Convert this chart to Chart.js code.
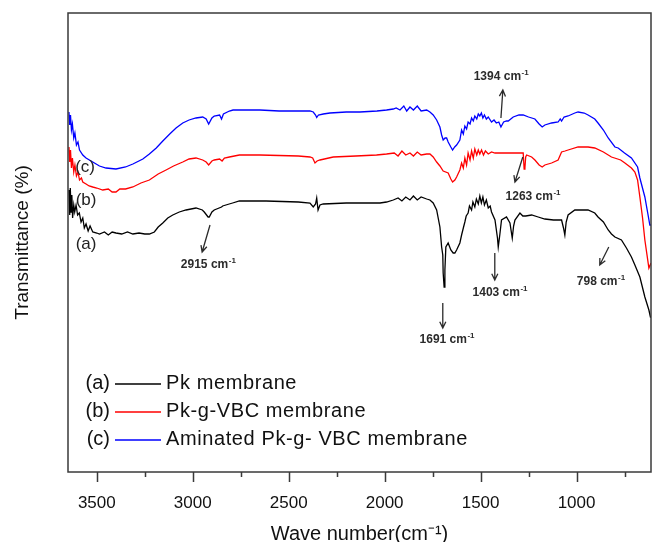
<!DOCTYPE html>
<html>
<head>
<meta charset="utf-8">
<script src="https://cdn.jsdelivr.net/npm/chart.js@4.4.1/dist/chart.umd.min.js"></script>
<style>
    html, body { margin: 0; padding: 0; background: #fff; }
    #wrap { width: 653px; height: 542px; }
</style>
</head>
<body>
<div id="wrap"><canvas id="ftir" width="653" height="542"></canvas></div>
<script>
// FTIR spectra, wavenumber (cm-1) vs transmittance (arbitrary offset units)
const pkWave = [3645, 3641, 3638, 3634, 3630, 3626, 3620, 3615, 3608, 3600, 3591, 3582, 3573, 3565, 3556, 3545, 3535, 3521, 3500, 3486, 3460, 3440, 3420, 3400, 3370, 3340, 3312, 3280, 3250, 3226, 3200, 3180, 3156, 3130, 3104, 3070, 3035, 2983, 2950, 2940, 2920, 2914, 2900, 2888, 2850, 2844, 2810, 2792, 2757, 2618, 2450, 2389, 2372, 2360, 2354, 2347, 2337, 2320, 2200, 2024, 1990, 1955, 1930, 1910, 1890, 1868, 1850, 1830, 1810, 1781, 1764, 1747, 1729, 1712, 1703, 1697, 1695, 1690, 1686, 1681, 1669, 1655, 1643, 1634, 1625, 1608, 1599, 1590, 1582, 1575, 1565, 1558, 1547, 1540, 1530, 1522, 1512, 1504, 1496, 1488, 1480, 1470, 1460, 1450, 1443, 1425, 1412, 1408, 1400, 1391, 1365, 1347, 1335, 1328, 1321, 1295, 1280, 1265, 1234, 1200, 1165, 1120, 1078, 1068, 1061, 1054, 1044, 1009, 940, 905, 888, 860, 835, 818, 800, 766, 740, 714, 696, 670, 644, 623, 615, 612];
const pkTrans = [28.2, 25.7, 28.4, 26.0, 27.7, 25.4, 26.7, 26.0, 26.7, 25.7, 25.9, 25.0, 25.4, 24.4, 24.8, 24.1, 24.6, 24.0, 23.9, 23.8, 24.0, 23.7, 24.0, 23.9, 23.8, 24.0, 23.8, 23.9, 23.8, 23.8, 24.0, 24.5, 24.9, 25.4, 25.7, 26.0, 26.2, 26.4, 26.2, 26.0, 25.5, 25.5, 26.0, 26.2, 26.5, 26.6, 26.8, 26.9, 27.1, 27.1, 27.0, 26.9, 26.5, 26.8, 27.4, 26.2, 26.7, 26.8, 26.9, 26.9, 27.0, 27.2, 27.4, 27.1, 27.5, 27.2, 27.6, 27.2, 27.5, 27.3, 27.2, 26.9, 26.2, 24.5, 22.5, 21.7, 19.9, 18.5, 20.2, 22.5, 22.9, 22.2, 21.9, 21.9, 22.2, 22.9, 23.7, 24.4, 25.0, 25.6, 25.9, 26.6, 26.2, 27.0, 26.5, 27.3, 26.8, 27.6, 26.9, 27.5, 26.7, 27.2, 26.4, 26.6, 26.0, 25.2, 23.4, 22.5, 23.7, 25.2, 25.5, 24.9, 23.4, 24.6, 25.2, 25.9, 25.6, 25.6, 25.7, 25.5, 25.3, 25.2, 25.2, 24.4, 23.7, 25.0, 25.7, 26.2, 26.2, 25.9, 25.5, 25.0, 24.2, 23.8, 23.5, 23.2, 22.4, 21.5, 20.7, 19.5, 17.5, 16.2, 15.5, 15.5];

const vbcWave = [3645, 3641, 3637, 3632, 3627, 3620, 3614, 3606, 3598, 3590, 3580, 3573, 3556, 3540, 3521, 3500, 3469, 3440, 3420, 3400, 3380, 3350, 3312, 3270, 3226, 3180, 3139, 3100, 3052, 3019, 2983, 2948, 2930, 2917, 2900, 2888, 2860, 2847, 2835, 2809, 2757, 2650, 2450, 2389, 2375, 2363, 2352, 2337, 2268, 2150, 2042, 1990, 1950, 1930, 1910, 1890, 1868, 1850, 1830, 1810, 1781, 1764, 1747, 1729, 1712, 1695, 1669, 1655, 1646, 1634, 1625, 1608, 1599, 1590, 1582, 1573, 1565, 1555, 1547, 1538, 1530, 1520, 1512, 1504, 1495, 1485, 1475, 1460, 1443, 1425, 1400, 1360, 1320, 1286, 1278, 1273, 1269, 1265, 1260, 1234, 1217, 1195, 1179, 1165, 1130, 1096, 1078, 1060, 1044, 992, 940, 905, 860, 818, 770, 748, 714, 696, 682, 670, 656, 644, 623, 612];
const vbcTrans = [32.5, 31.0, 32.2, 30.4, 31.4, 30.0, 30.7, 29.6, 30.0, 29.2, 29.4, 29.0, 28.8, 28.6, 28.5, 28.4, 28.2, 28.3, 28.0, 28.0, 28.3, 28.3, 28.5, 28.9, 29.2, 29.8, 30.2, 30.6, 31.0, 31.3, 31.4, 31.2, 31.0, 30.7, 31.1, 31.2, 31.3, 31.1, 31.4, 31.5, 31.7, 31.7, 31.6, 31.5, 31.4, 30.9, 31.1, 31.2, 31.5, 31.6, 31.7, 31.8, 31.9, 31.6, 32.1, 31.7, 31.9, 31.6, 32.0, 31.7, 31.8, 31.8, 31.5, 31.0, 30.6, 30.1, 29.9, 29.3, 29.0, 29.2, 29.5, 30.2, 30.9, 30.4, 31.4, 30.7, 31.9, 31.2, 32.1, 31.4, 32.3, 31.7, 32.2, 31.8, 32.2, 31.7, 32.1, 31.8, 32.0, 31.9, 31.9, 31.9, 31.9, 31.9, 31.9, 30.3, 30.4, 31.5, 31.7, 31.5, 31.2, 30.7, 30.5, 30.7, 30.9, 31.2, 32.0, 32.1, 32.2, 32.5, 32.5, 32.4, 32.0, 31.5, 31.2, 30.9, 30.4, 30.0, 29.2, 27.5, 25.4, 23.2, 20.4, 20.9];

const aminWave = [3645, 3641, 3637, 3632, 3627, 3620, 3614, 3606, 3598, 3590, 3573, 3556, 3521, 3486, 3452, 3400, 3350, 3312, 3260, 3226, 3190, 3156, 3120, 3087, 3052, 3019, 2983, 2948, 2930, 2917, 2900, 2888, 2860, 2850, 2840, 2809, 2790, 2750, 2650, 2550, 2450, 2389, 2372, 2360, 2354, 2345, 2320, 2285, 2200, 2129, 2040, 1990, 1955, 1940, 1920, 1900, 1885, 1868, 1850, 1830, 1810, 1781, 1764, 1747, 1729, 1712, 1703, 1695, 1685, 1677, 1669, 1655, 1646, 1635, 1625, 1608, 1599, 1590, 1582, 1573, 1565, 1555, 1547, 1538, 1530, 1520, 1512, 1504, 1496, 1488, 1480, 1470, 1460, 1443, 1430, 1418, 1405, 1394, 1380, 1365, 1356, 1330, 1300, 1278, 1250, 1217, 1195, 1179, 1165, 1130, 1096, 1085, 1078, 1065, 1044, 1009, 992, 960, 940, 905, 888, 860, 835, 800, 783, 750, 714, 682, 670, 644, 630, 618, 612];
const aminTrans = [36.0, 34.7, 35.7, 34.2, 34.8, 33.4, 33.9, 32.7, 33.0, 32.2, 31.7, 31.4, 31.0, 30.6, 30.4, 30.3, 30.5, 30.8, 31.3, 31.8, 32.4, 33.1, 33.8, 34.4, 34.9, 35.2, 35.4, 35.5, 35.3, 34.8, 35.4, 35.6, 35.7, 35.3, 35.8, 36.1, 36.2, 36.2, 36.2, 36.1, 36.1, 36.1, 36.0, 35.7, 35.45, 35.7, 35.8, 35.9, 36.0, 36.0, 36.1, 36.2, 36.3, 36.4, 36.2, 36.6, 36.1, 36.5, 36.2, 36.6, 36.1, 36.2, 36.0, 35.7, 35.2, 34.5, 33.7, 33.2, 33.4, 33.4, 33.0, 32.5, 32.2, 32.5, 32.7, 33.2, 34.2, 33.8, 34.6, 34.3, 35.0, 34.8, 35.4, 35.1, 35.6, 35.3, 35.8, 35.6, 35.9, 35.4, 35.7, 35.3, 35.5, 35.0, 35.2, 34.9, 35.0, 34.5, 35.0, 35.1, 35.1, 35.5, 35.7, 35.7, 35.5, 35.3, 34.8, 34.5, 34.7, 34.9, 35.0, 35.3, 35.1, 35.5, 35.6, 35.9, 36.0, 35.9, 35.7, 35.3, 34.9, 34.2, 33.4, 32.5, 32.4, 31.9, 31.4, 30.5, 29.4, 27.5, 26.0, 24.7, 24.7];

const tickWaves = [1000, 1500, 2000, 2500, 3000, 3500];
const minorWaves = [750, 1250, 1750, 2250, 2750, 3250];

const seriesNames = ['Pk membrane', 'Pk-g-VBC membrane', 'Aminated Pk-g- VBC membrane'];
const seriesTags = ['(a)', '(b)', '(c)'];
const seriesColors = ['#000000', '#ff0000', '#0000ff'];

// curve tags next to the left end of each spectrum (wavenumber, transmittance)
const tagWave = [3556, 3556, 3561];
const tagTrans = [22.8, 27.2, 30.5];

// peak notes: label centre and arrow (tail -> head), all in data units
const peakNotes = [
    { text: '2915', at: [2920, 20.7], tail: [2910, 24.7], head: [2951, 22.0] },
    { text: '1691', at: [1676, 13.2], tail: [1697, 16.9], head: [1697, 14.4] },
    { text: '1403', at: [1400, 17.9], tail: [1426, 21.9], head: [1426, 19.2] },
    { text: '798', at: [874, 19.0], tail: [832, 22.5], head: [879, 20.7] },
    { text: '1263', at: [1228, 27.5], tail: [1280, 31.5], head: [1321, 29.0] },
    { text: '1394', at: [1394, 39.5], tail: [1394, 35.4], head: [1384, 38.2] }
];

function toPoints(wave, trans) {
    return wave.map((w, i) => ({ x: w, y: trans[i] }));
}

function drawArrow(ctx, x1, y1, x2, y2) {
    const ang = Math.atan2(y2 - y1, x2 - x1);
    const head = 7;
    ctx.beginPath();
    ctx.moveTo(x1, y1);
    ctx.lineTo(x2, y2);
    ctx.moveTo(x2 - head * Math.cos(ang - 0.45), y2 - head * Math.sin(ang - 0.45));
    ctx.lineTo(x2, y2);
    ctx.lineTo(x2 - head * Math.cos(ang + 0.45), y2 - head * Math.sin(ang + 0.45));
    ctx.stroke();
}

function drawWaveLabel(ctx, text, cx, cy) {
    const main = text + ' cm';
    ctx.font = 'bold 12px "Liberation Sans", Arial, sans-serif';
    const wMain = ctx.measureText(main).width;
    ctx.font = 'bold 8px "Liberation Sans", Arial, sans-serif';
    const wSup = ctx.measureText('-1').width;
    const start = cx - (wMain + wSup) / 2;
    ctx.textAlign = 'left';
    ctx.textBaseline = 'middle';
    ctx.font = 'bold 12px "Liberation Sans", Arial, sans-serif';
    ctx.fillText(main, start, cy);
    ctx.font = 'bold 8px "Liberation Sans", Arial, sans-serif';
    ctx.fillText('-1', start + wMain + 0.5, cy - 4);
}

const decorations = {
    id: 'decorations',
    afterDraw(chart) {
        const { ctx, chartArea: a, scales: { x, y } } = chart;
        ctx.save();

        // frame
        ctx.strokeStyle = '#3a3a3a';
        ctx.lineWidth = 1.5;
        ctx.strokeRect(a.left, a.top, a.right - a.left, a.bottom - a.top);

        // tick marks, major and minor
        ctx.beginPath();
        tickWaves.forEach(w => {
            const px = Math.round(x.getPixelForValue(w)) + 0.5;
            ctx.moveTo(px, a.bottom);
            ctx.lineTo(px, a.bottom + 10);
        });
        minorWaves.forEach(w => {
            const px = Math.round(x.getPixelForValue(w)) + 0.5;
            ctx.moveTo(px, a.bottom);
            ctx.lineTo(px, a.bottom + 5);
        });
        ctx.stroke();

        // curve tags (a) (b) (c)
        ctx.fillStyle = '#222';
        ctx.font = '17px "Liberation Sans", Arial, sans-serif';
        ctx.textAlign = 'center';
        ctx.textBaseline = 'middle';
        seriesTags.forEach((t, i) => {
            ctx.fillText(t, x.getPixelForValue(tagWave[i]), y.getPixelForValue(tagTrans[i]));
        });

        // peak notes
        ctx.strokeStyle = '#2b2b2b';
        ctx.fillStyle = '#2b2b2b';
        ctx.lineWidth = 1.3;
        peakNotes.forEach(n => {
            drawArrow(ctx,
                x.getPixelForValue(n.tail[0]), y.getPixelForValue(n.tail[1]),
                x.getPixelForValue(n.head[0]), y.getPixelForValue(n.head[1]));
            drawWaveLabel(ctx, n.text, x.getPixelForValue(n.at[0]), y.getPixelForValue(n.at[1]));
        });

        // legend
        const rows = [a.bottom - 89, a.bottom - 61, a.bottom - 33];
        ctx.font = '20px "Liberation Sans", Arial, sans-serif';
        ctx.textBaseline = 'middle';
        seriesNames.forEach((name, i) => {
            const ry = rows[i];
            ctx.fillStyle = '#111';
            ctx.textAlign = 'right';
            ctx.fillText(seriesTags[i], a.left + 42, ry);
            ctx.strokeStyle = seriesColors[i];
            ctx.lineWidth = 1.5;
            ctx.beginPath();
            ctx.moveTo(a.left + 47, ry + 1);
            ctx.lineTo(a.left + 93, ry + 1);
            ctx.stroke();
            ctx.textAlign = 'left';
            ctx.letterSpacing = '0.6px';
            ctx.fillText(name, a.left + 98, ry);
            ctx.letterSpacing = '0px';
        });

        ctx.restore();
    }
};

const datasets = [
    toPoints(pkWave, pkTrans),
    toPoints(vbcWave, vbcTrans),
    toPoints(aminWave, aminTrans)
].map((pts, i) => ({
    label: seriesNames[i],
    data: pts,
    borderColor: seriesColors[i],
    borderWidth: 1.3,
    pointRadius: 0,
    tension: 0,
    fill: false
}));

new Chart(document.getElementById('ftir'), {
    type: 'line',
    data: { datasets },
    options: {
        responsive: false,
        animation: false,
        devicePixelRatio: 1,
        layout: { padding: { top: 13, right: 2, left: 0, bottom: 0 } },
        plugins: {
            legend: { display: false },
            tooltip: { enabled: false }
        },
        scales: {
            x: {
                type: 'linear',
                reverse: true,
                min: 612,
                max: 3650,
                afterBuildTicks: scale => {
                    scale.ticks = tickWaves.map(v => ({ value: v }));
                },
                afterFit: scale => { scale.height = 70; },
                grid: {
                    display: true,
                    drawOnChartArea: false,
                    drawTicks: true,
                    tickLength: 10,
                    color: 'rgba(0,0,0,0)'
                },
                border: { display: false },
                ticks: {
                    autoSkip: false,
                    maxRotation: 0,
                    padding: 11,
                    color: '#111',
                    font: { family: '"Liberation Sans", Arial, sans-serif', size: 17 },
                    callback: v => String(v)
                },
                title: {
                    display: true,
                    text: 'Wave number(cm\u207B\u00B9)',
                    color: '#111',
                    padding: 0,
                    font: { family: '"Liberation Sans", Arial, sans-serif', size: 20, lineHeight: 0.8 }
                }
            },
            y: {
                min: 0,
                max: 45.9,
                afterFit: scale => { scale.width = 68; },
                grid: { display: false },
                border: { display: false },
                ticks: { display: false },
                title: {
                    display: true,
                    text: 'Transmittance (%)',
                    color: '#111',
                    padding: { top: 11.5, bottom: 0 },
                    font: { family: '"Liberation Sans", Arial, sans-serif', size: 19 }
                }
            }
        }
    },
    plugins: [decorations]
});
</script>
</body>
</html>
